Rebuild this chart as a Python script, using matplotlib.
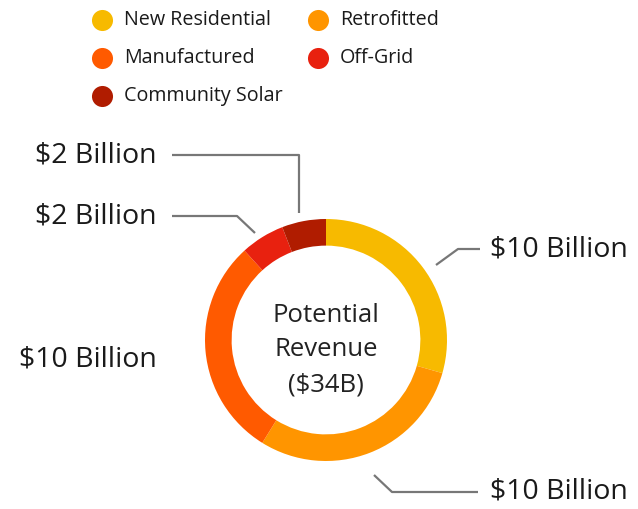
import matplotlib.pyplot as plt

# Revenue by segment, in billions of dollars
segments = ["New Residential", "Retrofitted", "Manufactured", "Off-Grid", "Community Solar"]
revenue = [10, 10, 10, 2, 2]
colors = ["#F7BA00", "#FF9500", "#FF5A00", "#E8210F", "#B01C00"]
value_labels = [f"${v} Billion" for v in revenue]

plt.rcParams["font.family"] = ["Open Sans", "DejaVu Sans"]

W, H = 638, 509
fig = plt.figure(figsize=(W / 100, H / 100), dpi=100)
ax = fig.add_axes([0, 0, 1, 1])

def Y(y):
    # image pixel row -> axes y
    return H - y

# ── Donut ─────────────────────────────────────────────
cx, cy, r = 326, Y(340), 121
ax.pie(revenue, colors=colors, startangle=90, counterclock=False,
       center=(cx, cy), radius=r,
       wedgeprops=dict(width=r * 0.22, linewidth=0))
ax.set_xlim(0, W)
ax.set_ylim(0, H)
ax.set_aspect("equal")
ax.axis("off")

ax.text(cx, Y(350), "Potential\nRevenue\n($34B)", ha="center", va="center",
        fontsize=18.5, color="#222222", linespacing=1.5)

# ── Leader lines and labels ───────────────────────────
line_kw = dict(color="#777777", linewidth=1.6, solid_capstyle="butt")
lab_kw = dict(fontsize=20.5, color="#1a1a1a", va="center")

# New Residential (right)
ax.plot([436, 458, 480], [Y(265), Y(249), Y(249)], **line_kw)
ax.text(490, Y(249), value_labels[0], ha="left", **lab_kw)
# Retrofitted (bottom right)
ax.plot([374, 392, 478], [Y(475), Y(492), Y(492)], **line_kw)
ax.text(490, Y(492), value_labels[1], ha="left", **lab_kw)
# Manufactured (left, no line)
ax.text(157, Y(359), value_labels[2], ha="right", **lab_kw)
# Off-Grid
ax.plot([172, 237, 255], [Y(216), Y(216), Y(233)], **line_kw)
ax.text(157, Y(216), value_labels[3], ha="right", **lab_kw)
# Community Solar
ax.plot([172, 299, 299], [Y(155), Y(155), Y(213)], **line_kw)
ax.text(157, Y(155), value_labels[4], ha="right", **lab_kw)

# ── Legend ────────────────────────────────────────────
leg_pos = [(102, 20), (318, 20), (102, 58), (318, 58), (102, 96)]
for name, col, (lx, ly) in zip(segments, colors, leg_pos):
    ax.scatter([lx], [Y(ly)], s=230, color=col, linewidths=0)
    ax.text(lx + 22, Y(ly), name, ha="left", va="center", fontsize=14.2, color="#1a1a1a")

fig.savefig("out.png", dpi=100)
